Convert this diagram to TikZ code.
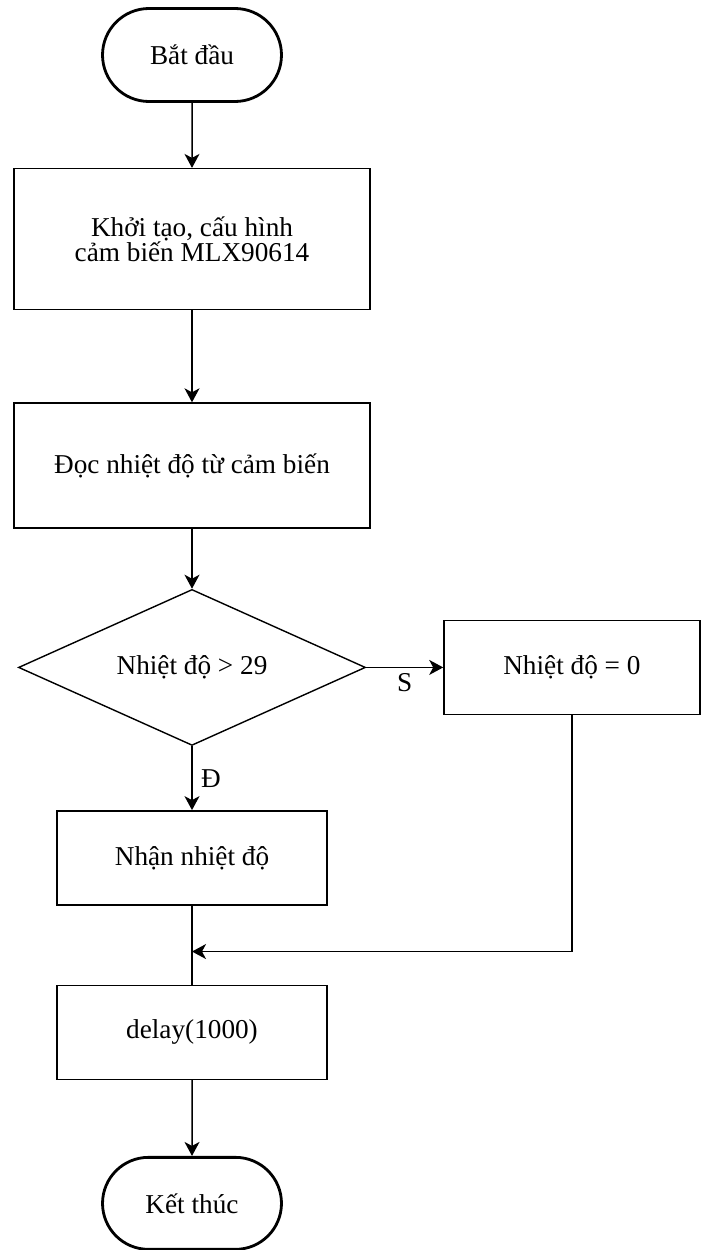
\documentclass[tikz,border=0pt]{standalone}
\usepackage{fontspec}
\setmainfont{Liberation Serif}
\usetikzlibrary{arrows.meta, positioning, shapes.geometric, shapes.misc}

\begin{document}
\begin{tikzpicture}[
    font=\fontsize{15.5}{14}\selectfont,
    terminal/.style={rounded rectangle, draw=black, line width=1.6pt, minimum width=3.72cm, minimum height=1.86cm, inner sep=2pt},
    process/.style={rectangle, draw=black, line width=0.8pt, minimum width=7.12cm, inner sep=2pt, align=center},
    small_process/.style={process, minimum width=5.4cm, minimum height=1.88cm},
    decision/.style={diamond, draw=black, line width=0.8pt, aspect=2.22, minimum width=6.94cm, minimum height=3.12cm, inner sep=0pt},
    arrow/.style={-{Stealth[length=0.28cm, width=0.3cm, inset=0.08cm]}, line width=0.85pt},
    plain_line/.style={line width=0.85pt}
]
    \useasboundingbox (0,0) rectangle (14,-25);

    % Main column
    \node[terminal] (start) at (3.84,-1.1) {Bắt đầu};
    \node[process, minimum height=2.82cm, below=1.3cm of start] (init) {Khởi tạo, cấu hình\\cảm biến MLX90614};
    \node[process, minimum height=2.5cm, below=1.84cm of init] (read_temp) {Đọc nhiệt độ từ cảm biến};
    \node[decision, below=1.2cm of read_temp] (check_temp) {Nhiệt độ > 29};
    \node[small_process, below=1.28cm of check_temp] (get_temp) {Nhận nhiệt độ};
    \node[small_process, below=1.58cm of get_temp] (delay) {delay(1000)};
    \node[terminal, minimum height=1.84cm, below=1.52cm of delay] (stop) {Kết thúc};

    % Branch "S" on the right
    \node[small_process, minimum width=5.12cm, right=1.54cm of check_temp] (zero_temp) {Nhiệt độ = 0};

    % Join point above delay box
    \coordinate (join) at ([yshift=-0.92cm]get_temp.south);

    % Connectors
    \draw[arrow] (start) -- (init);
    \draw[arrow] (init) -- (read_temp);
    \draw[arrow] (read_temp) -- (check_temp);
    \draw[arrow] (check_temp.east) -- (zero_temp.west)
        node[midway, yshift=-0.3cm] {S};
    \draw[arrow] (check_temp.south) -- (get_temp.north)
        node[midway, xshift=0.38cm] {Đ};
    \draw[plain_line] (get_temp) -- (delay);
    \draw[arrow] (zero_temp.south) |- (join);
    \draw[arrow] (delay) -- (stop);

\end{tikzpicture}
\end{document}
